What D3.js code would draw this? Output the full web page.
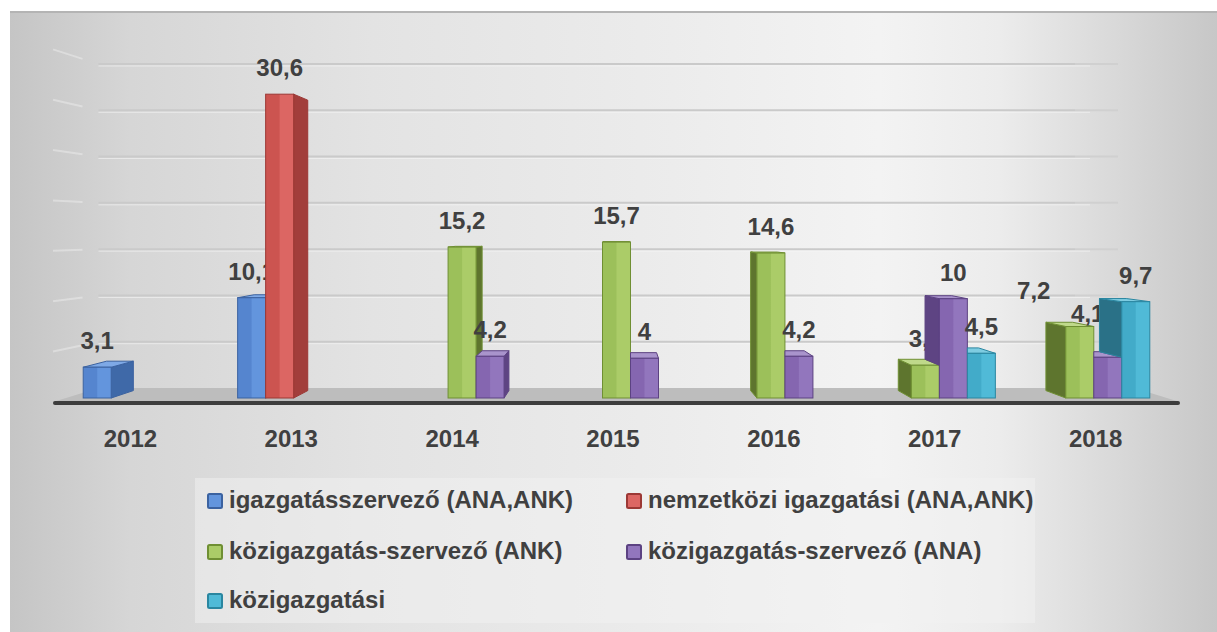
<!DOCTYPE html>
<html>
<head>
<meta charset="utf-8">
<script src="https://cdn.jsdelivr.net/npm/d3@7"></script>
<style>
  body { margin: 0; background: #fff; }
  text { font-family: "Liberation Sans", Arial, sans-serif; font-weight: bold; fill: #404040; }
</style>
</head>
<body>
<div id="chart"></div>
<script>
const years = ["2012", "2013", "2014", "2015", "2016", "2017", "2018"];
const seriesNames = [
    "igazgatásszervező (ANA,ANK)",
    "nemzetközi igazgatási (ANA,ANK)",
    "közigazgatás-szervező (ANK)",
    "közigazgatás-szervező (ANA)",
    "közigazgatási"
];
const igazgatasszervezo = [3.1, 10.1, null, null, null, null, null];
const nemzetkozi = [null, 30.6, null, null, null, null, null];
const kozigSzervezoANK = [null, null, 15.2, 15.7, 14.6, 3.3, 7.2];
const kozigSzervezoANA = [null, null, 4.2, 4, 4.2, 10, 4.1];
const kozigazgatasi = [null, null, null, null, null, 4.5, 9.7];
const seriesValues = [igazgatasszervezo, nemzetkozi, kozigSzervezoANK, kozigSzervezoANA, kozigazgatasi];

// colours: front, front highlight, side, top, outline
const palette = [
    ["#5585cf", "#6395dd", "#3f69a8", "#7ea9e6", "#3b62a0"],
    ["#cc5450", "#dc6663", "#a23e3b", "#e27d7a", "#9c3835"],
    ["#9cc05a", "#abcc68", "#5e752e", "#bfd98a", "#6f8f33"],
    ["#8566b0", "#9276bd", "#5e4483", "#a994cc", "#5c4282"],
    ["#42abc9", "#50bad7", "#2a7187", "#7ecce1", "#2a86a0"]
];

// a few labels were moved by hand in the original chart
const labelNudge = { "2|6": [-46, -10], "3|6": [-20, -17] };

const W = 1217, H = 632;
const V = { x: 614, y: 230 };   // vanishing point of the 3d view
const depth = 0.956;             // bar depth
const floorDepth = 0.919;        // back wall depth

const svg = d3.select("#chart").append("svg")
    .attr("width", W)
    .attr("height", H);

const defs = svg.append("defs");
const bg = defs.append("linearGradient").attr("id", "bg")
    .attr("x1", 0).attr("x2", 1).attr("y1", 0).attr("y2", 0);
[[0, "#c5c5c5"], [0.1, "#d6d6d6"], [0.3, "#e3e3e3"], [0.55, "#ececec"],
 [0.72, "#f3f3f3"], [0.82, "#ececec"], [0.92, "#d8d8d8"], [1, "#c7c7c7"]]
    .forEach(s => bg.append("stop").attr("offset", s[0]).attr("stop-color", s[1]));

palette.forEach((c, i) => {
    const g = defs.append("linearGradient").attr("id", "front" + i)
        .attr("x1", 0).attr("x2", 1).attr("y1", 0).attr("y2", 0);
    g.append("stop").attr("offset", 0).attr("stop-color", c[0]);
    g.append("stop").attr("offset", 0.48).attr("stop-color", c[0]);
    g.append("stop").attr("offset", 0.52).attr("stop-color", c[1]);
    g.append("stop").attr("offset", 1).attr("stop-color", c[1]);
});

// background
svg.append("rect").attr("x", 10).attr("y", 12)
    .attr("width", W - 10).attr("height", H - 12)
    .attr("fill", "url(#bg)");
svg.append("line").attr("x1", 10).attr("x2", W).attr("y1", 12).attr("y2", 12)
    .attr("stroke", "#b4b4b4").attr("stroke-width", 2);

// scales
const xLabel = d3.scaleBand().domain(years).range([50, 1176]);
const xBar = d3.scaleBand().domain(years).range([76, 1157]);
const xSeries = d3.scaleBand().domain(d3.range(seriesNames.length)).range([0, 140]);
const yBar = d3.scaleLinear().domain([0, 35]).range([398, 50.5]);
const yGrid = d3.scaleLinear().domain([0, 35]).range([388, 64]);

function back(p) {
    return [V.x + (p[0] - V.x) * depth, V.y + (p[1] - V.y) * depth];
}
function toFront(y) {
    return V.y + (y - V.y) / floorDepth;
}
const poly = pts => pts.map(p => p.join(",")).join(" ");

// back wall gridlines, fading out towards the right wall
const ticks = yGrid.ticks(7).filter(t => t > 0);
const wallL = V.x + (53 - V.x) * floorDepth, wallR = V.x + (1180 - V.x) * floorDepth;
const grid = svg.append("g");
grid.selectAll("line.g").data(ticks).join("line")
    .attr("class", "g")
    .attr("x1", wallL).attr("x2", 1075)
    .attr("y1", d => yGrid(d)).attr("y2", d => yGrid(d))
    .attr("stroke", "#cacaca").attr("stroke-width", 2);
grid.selectAll("line.f").data(ticks).join("line")
    .attr("class", "f")
    .attr("x1", 1075).attr("x2", 1118)
    .attr("y1", d => yGrid(d)).attr("y2", d => yGrid(d))
    .attr("stroke", "#d0d0d0").attr("stroke-width", 2);
grid.selectAll("line.h").data(ticks).join("line")
    .attr("class", "h")
    .attr("x1", wallL).attr("x2", 1090)
    .attr("y1", d => yGrid(d) + 2).attr("y2", d => yGrid(d) + 2)
    .attr("stroke", "#f6f6f6").attr("stroke-opacity", 0.6).attr("stroke-width", 1);

// left wall gridlines
svg.append("g").selectAll("line").data(ticks).join("line")
    .attr("x1", 53).attr("x2", d => 53 + (wallL - 53) * 0.65)
    .attr("y1", d => toFront(yGrid(d)))
    .attr("y2", d => toFront(yGrid(d)) + (yGrid(d) - toFront(yGrid(d))) * 0.65)
    .attr("stroke", "#f4f4f4").attr("stroke-opacity", 0.4).attr("stroke-width", 2);

// floor
const floorPts = [[53, 402], [1180, 402], [wallR, yGrid(0)], [wallL, yGrid(0)]];
svg.append("polygon").attr("points", poly(floorPts))
    .attr("fill", "#bdbdbd");
svg.append("line").attr("x1", 55).attr("x2", 1178).attr("y1", 403).attr("y2", 403)
    .attr("stroke", "#3d3d3d").attr("stroke-width", 4).attr("stroke-linecap", "round");

// category labels
svg.append("g").selectAll("text").data(years).join("text")
    .attr("x", d => xLabel(d) + xLabel.bandwidth() / 2)
    .attr("y", 447)
    .attr("text-anchor", "middle")
    .attr("font-size", 24)
    .text(d => d);

// bars, one series after another
const fmt = v => String(v).replace(".", ",");
const barX = (yr, si) => xBar(yr) + (xBar.bandwidth() - 140) / 2 + xSeries(si);

seriesValues.forEach((vals, si) => {
    const c = palette[si];
    const g = svg.append("g");
    const data = years.map((yr, i) => ({ yr, i, v: vals[i] })).filter(d => d.v != null);

    data.forEach(d => {
        const x0 = barX(d.yr, si);
        const x1 = x0 + xSeries.bandwidth();
        const yt = yBar(d.v), yb = yBar(0);
        const A = [x0, yt], B = [x1, yt], C = [x1, yb];
        // left neighbour in the same year hides part of a left side face
        const nv = si > 0 ? seriesValues[si - 1][d.i] : null;
        const bar = g.append("g");
        if (x1 < V.x) {
            bar.append("polygon").attr("points", poly([B, back(B), back(C), C]))
                .attr("fill", c[2]).attr("stroke", c[4]).attr("stroke-width", 1);
        } else if (x0 > V.x && (nv == null || nv < d.v)) {
            const D = [x0, yBar(nv == null ? 0 : nv)];
            bar.append("polygon").attr("points", poly([A, back(A), back(D), D]))
                .attr("fill", c[2]).attr("stroke", c[4]).attr("stroke-width", 1);
        }
        if (yt > V.y) {
            let top = [A, B, back(B), back(A)];
            if (x0 > V.x && nv != null && nv > d.v) {
                top = [A, B, back(B), [x0, back(A)[1]]];
            }
            bar.append("polygon").attr("points", poly(top))
                .attr("fill", c[3]).attr("stroke", c[4]).attr("stroke-width", 1);
        }
        bar.append("rect")
            .attr("x", x0).attr("y", yt)
            .attr("width", x1 - x0).attr("height", yb - yt)
            .attr("fill", "url(#front" + si + ")")
            .attr("stroke", c[4]).attr("stroke-width", 1);
    });

    g.selectAll("text").data(data).join("text")
        .attr("x", d => {
            const n = labelNudge[si + "|" + d.i];
            return barX(d.yr, si) + xSeries.bandwidth() / 2 + (n ? n[0] : 0);
        })
        .attr("y", d => {
            const n = labelNudge[si + "|" + d.i];
            return yBar(d.v) - 18 + (n ? n[1] : 0);
        })
        .attr("text-anchor", "middle")
        .attr("font-size", 24)
        .text(d => fmt(d.v));
});

// legend
const legend = svg.append("g");
legend.append("rect").attr("x", 195).attr("y", 478)
    .attr("width", 840).attr("height", 145)
    .attr("fill", "#f2f2f2").attr("fill-opacity", 0.5);
const legX = [207, 626], legY = [508, 559, 608];
const items = legend.selectAll("g.item").data(seriesNames).join("g")
    .attr("class", "item")
    .attr("transform", (d, i) => `translate(${legX[i % 2]},${legY[Math.floor(i / 2)]})`);
items.append("rect")
    .attr("x", 1).attr("y", -14).attr("width", 14).attr("height", 14)
    .attr("rx", 1.5)
    .attr("fill", (d, i) => palette[i][1])
    .attr("stroke", (d, i) => palette[i][4]).attr("stroke-width", 2);
items.append("text")
    .attr("x", 22).attr("y", 0)
    .attr("font-size", 24)
    .text(d => d);
</script>
</body>
</html>
